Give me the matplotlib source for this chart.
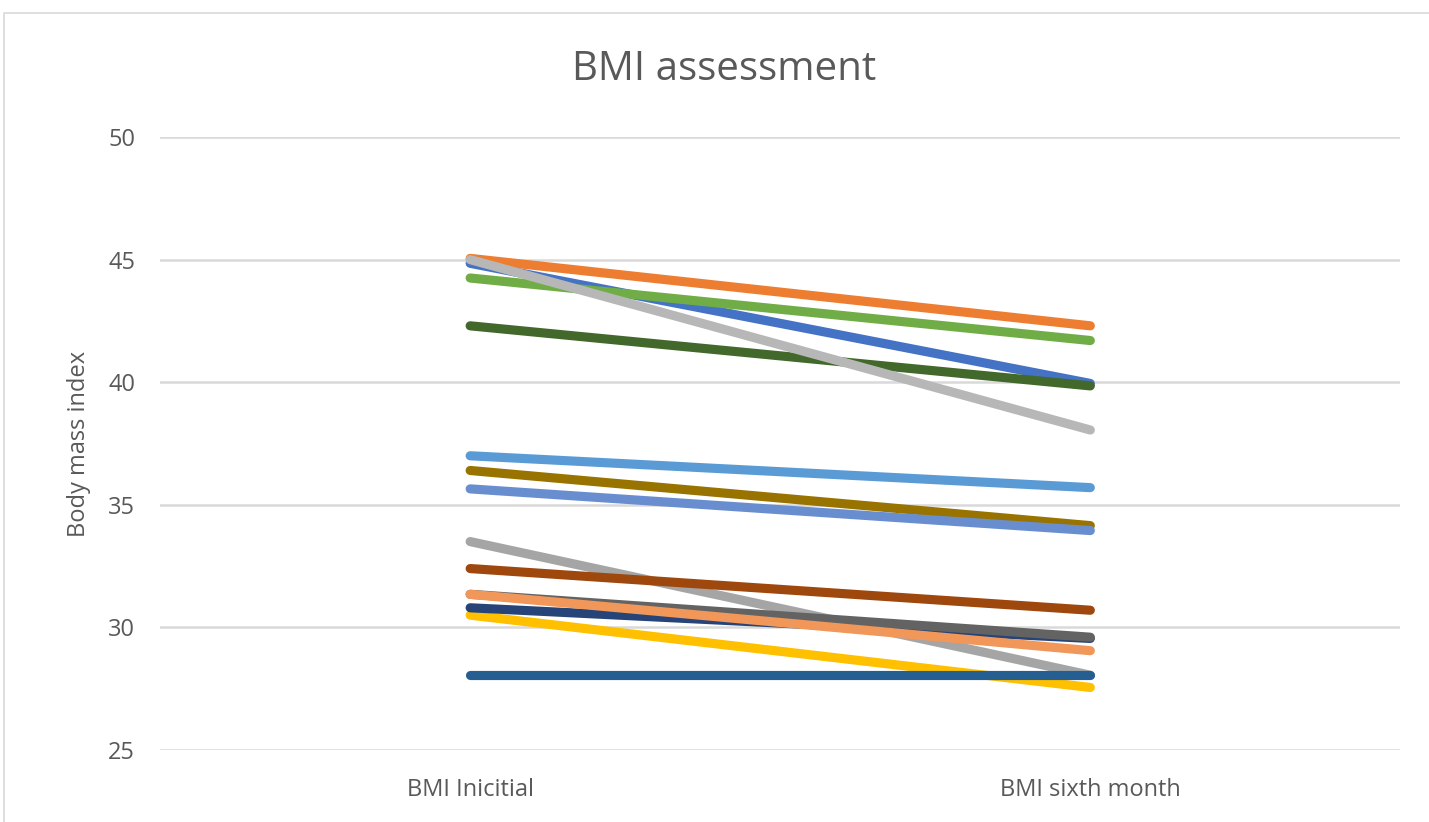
import matplotlib.pyplot as plt
from matplotlib.patches import Rectangle

plt.rcParams['font.family'] = ['Open Sans', 'DejaVu Sans']

# Data
categories = ['BMI Inicitial', 'BMI sixth month']
bmi_start = [44.85, 45.05, 33.5, 30.5, 37.0, 44.25, 30.8, 32.4, 31.35, 36.4, 28.05, 42.3, 35.65, 31.35, 45.0]
bmi_end = [39.95, 42.3, 28.05, 27.55, 35.7, 41.7, 29.55, 30.7, 29.6, 34.15, 28.05, 39.85, 33.95, 29.05, 38.05]
colors = ['#4472C4', '#ED7D31', '#A5A5A5', '#FFC000', '#5B9BD5', '#70AD47', '#264478', '#9E480E',
          '#636363', '#997300', '#255E91', '#43682B', '#698ED0', '#F1975A', '#B7B7B7']
yticks = [25, 30, 35, 40, 45, 50]

fig = plt.figure(figsize=(14.29, 8.22), dpi=100)
ax = fig.add_axes([0.112, 0.0876, 0.868, 0.7457])

# chart border
fig.patches.append(Rectangle((0.003, -0.1), 1.2, 1.084, transform=fig.transFigure,
                             fill=False, edgecolor='#D9D9D9', linewidth=1.2))

for i in range(len(bmi_start)):
    ax.plot([0, 1], [bmi_start[i], bmi_end[i]], color=colors[i], linewidth=6.6,
            solid_capstyle='round', zorder=3 + i * 0.01)

ax.set_xlim(-0.5, 1.5)
ax.set_ylim(25, 50)
ax.set_yticks(yticks)
ax.set_xticks([0, 1])
ax.set_xticklabels(categories)
ax.grid(axis='y', color='#D9D9D9', linewidth=1.8)
ax.set_axisbelow(True)
for s in ax.spines.values():
    s.set_visible(False)
ax.tick_params(length=0, colors='#595959', labelsize=17)
ax.tick_params(axis='y', pad=18)
ax.tick_params(axis='x', pad=20)

ax.set_ylabel('Body mass index', fontsize=17, color='#595959', labelpad=12)
fig.text(0.507, 0.915, 'BMI assessment', ha='center', va='center', fontsize=29, color='#595959')

plt.savefig('out.png')
